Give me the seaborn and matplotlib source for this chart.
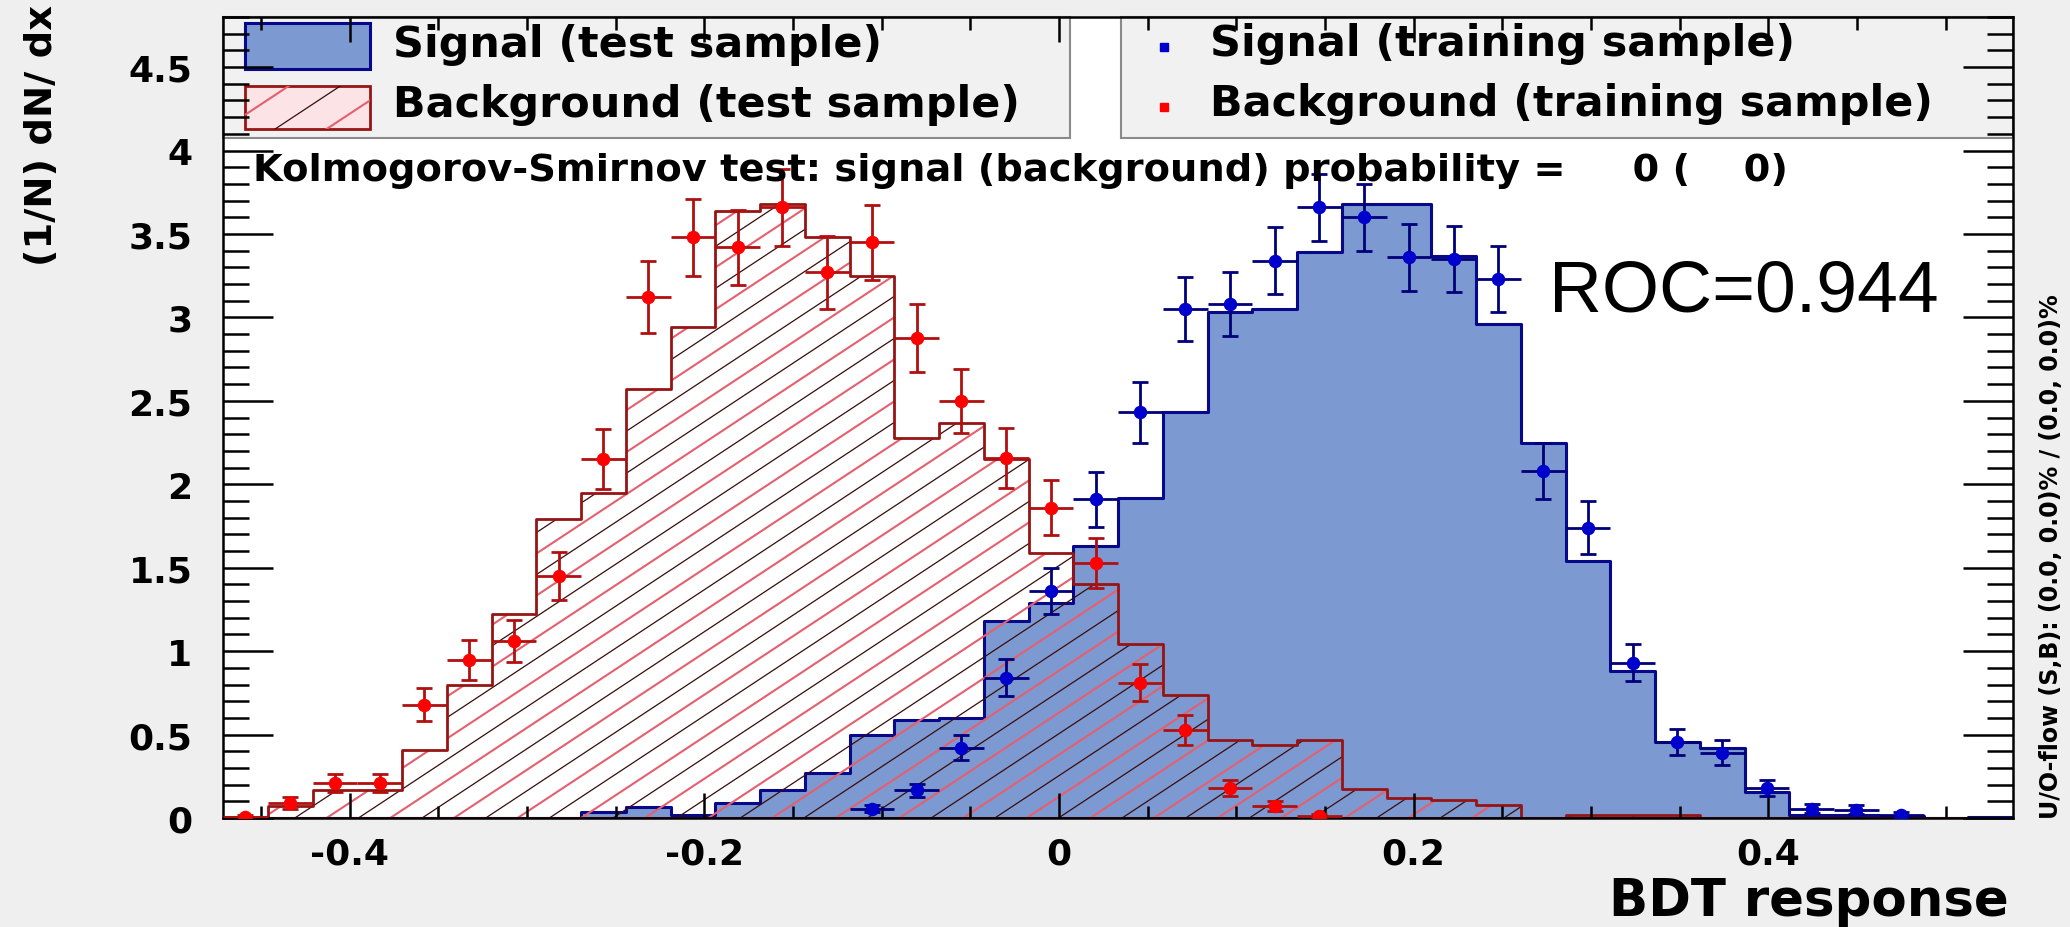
import numpy as np
import pandas as pd
import matplotlib
matplotlib.use("Agg")
import matplotlib.pyplot as plt
import seaborn as sns
from matplotlib.patches import Rectangle
from matplotlib.collections import LineCollection
from matplotlib.ticker import MultipleLocator

nan = np.nan

# ---------------------------------------------------------------- data
# BDT response histogram range and binning
x_low, x_high = -0.4715, 0.538
n_bins = 40

# normalised test-sample histograms, (1/N) dN/dx per bin
sig_test = [0, 0, 0, 0, 0, 0, 0, 0, 0.035, 0.066, 0.015, 0.09, 0.17, 0.27,
            0.50, 0.59, 0.60, 1.18, 1.29, 1.63, 1.92, 2.43, 3.03, 3.05, 3.39,
            3.68, 3.68, 3.37, 2.96, 2.25, 1.54, 0.88, 0.455, 0.42, 0.155,
            0.02, 0.02, 0.01, 0.0, 0.006]
bkg_test = [0.005, 0.07, 0.17, 0.17, 0.41, 0.80, 1.22, 1.79, 1.95, 2.57,
            2.94, 3.64, 3.68, 3.48, 3.25, 2.28, 2.37, 2.15, 1.59, 1.40,
            1.04, 0.74, 0.465, 0.44, 0.47, 0.175, 0.12, 0.11, 0.075, 0.0,
            0.015, 0.015, 0.015, 0, 0, 0, 0, 0, 0, 0]

# training-sample points and their uncertainties (empty bins are not drawn)
sig_train = [nan, nan, nan, nan, nan, nan, nan, nan, nan, nan, nan, nan, nan, nan,
             0.055, 0.165, 0.42, 0.84, 1.36, 1.91, 2.43, 3.05, 3.08, 3.34,
             3.66, 3.60, 3.36, 3.35, 3.23, 2.08, 1.74, 0.93, 0.456, 0.39,
             0.18, 0.055, 0.05, 0.02, nan, nan]
sig_train_err = [nan, nan, nan, nan, nan, nan, nan, nan, nan, nan, nan, nan, nan, nan,
                 0.02, 0.04, 0.075, 0.11, 0.14, 0.165, 0.18, 0.19, 0.19, 0.20,
                 0.20, 0.20, 0.20, 0.20, 0.20, 0.17, 0.16, 0.11, 0.08, 0.075,
                 0.05, 0.028, 0.026, 0.017, nan, nan]
bkg_train = [0.006, 0.09, 0.21, 0.21, 0.68, 0.945, 1.06, 1.45, 2.15, 3.12,
             3.48, 3.42, 3.66, 3.27, 3.45, 2.875, 2.50, 2.16, 1.86, 1.53,
             0.81, 0.525, 0.18, 0.07, 0.012, nan, nan, nan, nan, nan,
             nan, nan, nan, nan, nan, nan, nan, nan, nan, nan]
bkg_train_err = [0.01, 0.035, 0.055, 0.055, 0.10, 0.12, 0.125, 0.145, 0.18, 0.215,
                 0.23, 0.225, 0.23, 0.22, 0.225, 0.205, 0.19, 0.18, 0.165, 0.15,
                 0.11, 0.09, 0.05, 0.03, 0.012, nan, nan, nan, nan, nan,
                 nan, nan, nan, nan, nan, nan, nan, nan, nan, nan]

x_tick_values = [-0.4, -0.2, 0.0, 0.2, 0.4]
x_tick_labels = ["-0.4", "-0.2", "0", "0.2", "0.4"]
y_tick_values = [0, 0.5, 1, 1.5, 2, 2.5, 3, 3.5, 4, 4.5]
y_tick_labels = ["0", "0.5", "1", "1.5", "2", "2.5", "3", "3.5", "4", "4.5"]

legend_labels = ["Signal (test sample)", "Background (test sample)",
                 "Signal (training sample)", "Background (training sample)"]
ks_text = "Kolmogorov-Smirnov test: signal (background) probability =     0 (    0)"
roc_text = "ROC=0.944"
x_title = "BDT response"
y_title = "(1/N) dN/ dx"
flow_text = "U/O-flow (S,B): (0.0, 0.0)% / (0.0, 0.0)%"

# ---------------------------------------------------------------- style
SIG_FILL = "#7d99d1"
SIG_LINE = "#08088a"
SIG_MARK = "#0000cc"
SIG_ERR = "#00007a"
BKG_LINE = "#961414"
BKG_MARK = "#ff0000"
BKG_ERR = "#b01010"
HATCH_COLORS = ["#e4606e", "#3a0c0c"]

W, H = 2070, 928
L, R, T, B = 223, 2013, 18, 819          # frame in pixels

sns.set_style("ticks")
plt.rcParams["font.family"] = ["DejaVu Sans"]
plt.rcParams["axes.unicode_minus"] = False
for key in ["text.color", "axes.labelcolor", "xtick.color", "ytick.color",
            "xtick.labelcolor", "ytick.labelcolor"]:
    plt.rcParams[key] = "black"

fig = plt.figure(figsize=(W / 100, H / 100), dpi=100, facecolor="#efefef")
ax = fig.add_axes([L / W, 1 - B / H, (R - L) / W, (B - T) / H])
ax.set_facecolor("white")
ax.set_axisbelow(False)


def axx(px):
    return (px - L) / (R - L)


def axy(py):
    return (B - py) / (B - T)


def add_hatch(clip, clip_transform=None, zorder=1.5, spacing_px=21, slope_px=0.66):
    """Parallel diagonal lines (alternating colours) clipped to a shape."""
    s = slope_px * (R - L) / (B - T)
    dc = spacing_px / (B - T)
    cs = np.arange(-s - dc, 1 + dc, dc)
    segs = [[(0, c), (1, s + c)] for c in cs]
    cols = [HATCH_COLORS[i % 2] for i in range(len(segs))]
    lws = [1.5 if i % 2 == 0 else 0.9 for i in range(len(segs))]
    lc = LineCollection(segs, colors=cols, linewidths=lws,
                        transform=ax.transAxes, zorder=zorder)
    ax.add_collection(lc, autolim=False)
    if clip_transform is None:
        lc.set_clip_path(clip)
    else:
        lc.set_clip_path(clip, clip_transform)
    return lc


edges = np.linspace(x_low, x_high, n_bins + 1)
centers = 0.5 * (edges[:-1] + edges[1:])
half_w = 0.5 * np.diff(edges)

df = pd.DataFrame({"bdt": centers, "sig": sig_test, "bkg": bkg_test})

# signal test sample: filled step histogram
sns.histplot(data=df, x="bdt", weights="sig", bins=n_bins,
             binrange=(x_low, x_high), element="step", fill=True, ax=ax,
             zorder=1)
sig_fill = ax.collections[-1]
sig_fill.set_alpha(1.0)
sig_fill.set_facecolor(SIG_FILL)
sig_fill.set_edgecolor(SIG_LINE)
sig_fill.set_linewidth(2.2)

# background test sample: hatched step histogram
sns.histplot(data=df, x="bdt", weights="bkg", bins=n_bins,
             binrange=(x_low, x_high), element="step", fill=True, ax=ax,
             zorder=1.6)
bkg_fill = ax.collections[-1]
bkg_fill.set_alpha(1.0)
bkg_fill.set_facecolor("none")
bkg_fill.set_edgecolor(BKG_LINE)
bkg_fill.set_linewidth(2.0)
add_hatch(bkg_fill.get_paths()[0], ax.transData, zorder=1.5)

# training samples: points with error bars
for yv, ye, mc, ec in [(bkg_train, bkg_train_err, BKG_MARK, BKG_ERR),
                       (sig_train, sig_train_err, SIG_MARK, SIG_ERR)]:
    ax.errorbar(centers, yv, yerr=ye, fmt="none", ecolor=ec, elinewidth=2.0,
                capsize=5.5, capthick=2.0, zorder=4)
    ax.errorbar(centers, yv, xerr=half_w, fmt="none", ecolor=ec,
                elinewidth=2.0, capsize=0, zorder=4)
    sns.scatterplot(x=centers, y=yv, marker="o", s=95, color=mc,
                    edgecolor=mc, linewidth=0, ax=ax, zorder=5)

# ---------------------------------------------------------------- axes
ax.set_xlim(x_low, x_high)
ax.set_ylim(0, 4.8)
ax.set_xlabel("")
ax.set_ylabel("")
ax.set_xticks(x_tick_values, labels=x_tick_labels)
ax.set_yticks(y_tick_values, labels=y_tick_labels)
ax.xaxis.set_minor_locator(MultipleLocator(0.05))
ax.yaxis.set_minor_locator(MultipleLocator(0.1))
ax.tick_params(axis="both", which="both", direction="in", top=True,
               right=True, width=1.8, color="black")
ax.tick_params(axis="y", which="major", length=36, labelsize=26, pad=22)
ax.tick_params(axis="y", which="minor", length=19)
ax.tick_params(axis="x", which="major", length=18, labelsize=26, pad=13)
ax.tick_params(axis="x", which="minor", length=9)
for lab in ax.get_xticklabels() + ax.get_yticklabels():
    lab.set_fontweight("bold")
for sp in ax.spines.values():
    sp.set_visible(True)
    sp.set_linewidth(1.8)
    sp.set_color("black")

# ---------------------------------------------------------------- legend boxes
box_kw = dict(transform=ax.transAxes, facecolor="#f1f1f1", edgecolor="#8a8a8a",
              linewidth=1.5, zorder=2.2, clip_on=False)
ax.add_patch(Rectangle((0, axy(139)), axx(1070), 1 - axy(139), **box_kw))
ax.add_patch(Rectangle((axx(1121), axy(139)), 1 - axx(1121), 1 - axy(139), **box_kw))

ax.add_patch(Rectangle((axx(245), axy(70)), axx(370) - axx(245), axy(24) - axy(70),
                       transform=ax.transAxes, facecolor=SIG_FILL,
                       edgecolor=SIG_LINE, linewidth=2.2, zorder=2.3))
bkg_sym = Rectangle((axx(245), axy(130)), axx(370) - axx(245), axy(87) - axy(130),
                    transform=ax.transAxes, facecolor="#fbe3e6",
                    edgecolor=BKG_LINE, linewidth=2.0, zorder=2.3)
ax.add_patch(bkg_sym)
add_hatch(bkg_sym, zorder=2.35, spacing_px=34)

ax.plot([axx(1164)], [axy(48)], "s", ms=6, color=SIG_MARK,
        transform=ax.transAxes, zorder=4, clip_on=False)
ax.plot([axx(1164)], [axy(108)], "s", ms=6, color=BKG_MARK,
        transform=ax.transAxes, zorder=4, clip_on=False)

renderer = fig.canvas.get_renderer()


def scale_to(txt, target_px, dim="w"):
    bb = txt.get_window_extent(renderer)
    cur = bb.width if dim == "w" else bb.height
    return txt.get_fontsize() * target_px / cur


leg_pos = [(393, 57), (393, 117), (1210, 56), (1210, 116)]
leg_targets = [498, 652, 602, 752]
leg_texts = []
for lab, (px, py) in zip(legend_labels, leg_pos):
    leg_texts.append(ax.text(axx(px), axy(py), lab, transform=ax.transAxes,
                             fontsize=20, fontweight="bold", ha="left",
                             va="baseline", zorder=4))
size = np.mean([scale_to(t, tw) for t, tw in zip(leg_texts, leg_targets)])
for t in leg_texts:
    t.set_fontsize(size * 0.97)

ks = ax.text(axx(253), axy(181), ks_text, transform=ax.transAxes, fontsize=18,
             fontweight="bold", ha="left", va="baseline", zorder=4)
ks.set_fontsize(scale_to(ks, 1536))

roc = ax.text(axx(1549), axy(311), roc_text, transform=ax.transAxes,
              fontsize=53, family=["Liberation Sans", "DejaVu Sans"],
              ha="left", va="baseline", zorder=4)
roc.set_fontsize(scale_to(roc, 390))

# ---------------------------------------------------------------- titles
yt = fig.text(42 / W, 1 - 5 / H, y_title, rotation=90, ha="center", va="top",
              fontsize=24, fontweight="bold")
yt.set_fontsize(scale_to(yt, 262, "h"))

xt = fig.text(2009 / W, 1 - 916 / H, x_title, ha="right", va="baseline",
              fontsize=37, fontweight="bold")

ft = fig.text(2051 / W, 1 - 819 / H, flow_text, rotation=90, ha="center",
              va="bottom", fontsize=14, fontweight="bold")
ft.set_fontsize(scale_to(ft, 525, "h"))

fig.savefig("out.png", dpi=100, facecolor=fig.get_facecolor())
